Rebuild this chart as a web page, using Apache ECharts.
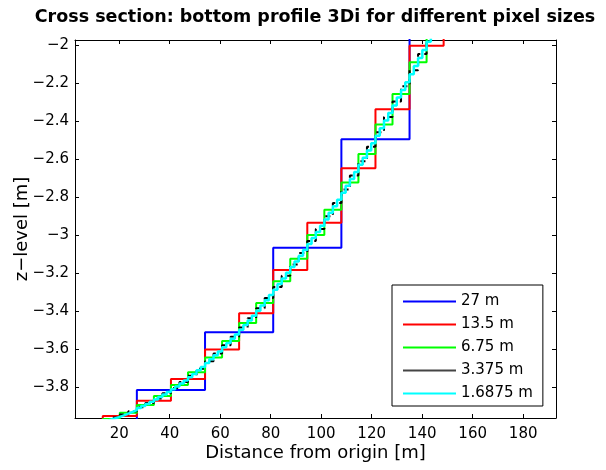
<!DOCTYPE html>
<html><head><meta charset="utf-8">
<script src="https://cdn.jsdelivr.net/npm/echarts@6/dist/echarts.min.js"></script>
<style>html,body{margin:0;padding:0;background:#fff}#c{width:606px;height:470px}</style>
</head><body><div id="c"></div>
<script>
// ---- data ----
const titleText = 'Cross section: bottom profile 3Di for different pixel sizes';
const xName = 'Distance from origin [m]';
const yName = 'z\u2212level [m]';
const seriesNames = ['27 m', '13.5 m', '6.75 m', '3.375 m', '1.6875 m'];
const pixelSizes = [27, 13.5, 6.75, 3.375, 1.6875];
const firstEdge = [0, 0, 6.75, 10.125, 11.8125];
const xTicks = [20, 40, 60, 80, 100, 120, 140, 160, 180];
const yTicks = [-3.8, -3.6, -3.4, -3.2, -3, -2.8, -2.6, -2.4, -2.2, -2];
const xRange = [2.5, 193];
const yRange = [-3.963, -1.974];

const levels27 = [-4.1, -3.816, -3.512, -3.067, -2.496, -1.83];
const levels13_5 = [-4.1, -3.953, -3.872, -3.758, -3.602, -3.412, -3.184, -2.935, -2.649, -2.338, -2.004, -1.66];
const levels6_75 = [-4.1, -3.968, -3.936, -3.895, -3.847, -3.790, -3.722, -3.644, -3.558, -3.463, -3.358,
  -3.244, -3.125, -3.000, -2.867, -2.724, -2.574, -2.419, -2.258, -2.091, -1.917, -1.74];
const levels3_375 = [-4.1, -3.975, -3.961,
  -3.945, -3.927, -3.906, -3.884, -3.860, -3.833, -3.805, -3.774,
  -3.741, -3.704, -3.665, -3.624, -3.580, -3.535, -3.487, -3.438,
  -3.386, -3.331, -3.274, -3.215, -3.155, -3.095, -3.032, -2.968,
  -2.901, -2.832, -2.760, -2.687, -2.612, -2.536, -2.459, -2.379,
  -2.298, -2.217, -2.133, -2.048, -1.961, -1.873];
const levels1_6875 = [-4.1, -3.978, -3.971, -3.964, -3.957,
  -3.949, -3.940, -3.931, -3.922, -3.911, -3.900, -3.889, -3.878,
  -3.866, -3.853, -3.839, -3.826, -3.812, -3.797, -3.781, -3.766,
  -3.749, -3.731, -3.712, -3.694, -3.674, -3.654, -3.633, -3.613,
  -3.591, -3.568, -3.546, -3.523, -3.499, -3.474, -3.450, -3.425,
  -3.399, -3.371, -3.344, -3.316, -3.288, -3.258, -3.229, -3.199,
  -3.169, -3.139, -3.109, -3.079, -3.048, -3.016, -2.984, -2.952,
  -2.918, -2.883, -2.849, -2.814, -2.778, -2.741, -2.705, -2.668,
  -2.631, -2.593, -2.555, -2.517, -2.478, -2.438, -2.398, -2.358,
  -2.318, -2.277, -2.237, -2.196, -2.154, -2.111, -2.069, -2.026,
  -1.983, -1.939, -1.895, -1.851];
const allLevels = [levels27, levels13_5, levels6_75, levels3_375, levels1_6875];

// ---- styles ----
const colors = ['#0000ff', '#ff0000', '#00ff00', '#000000', '#00ffff'];
const legendColors = ['#0000ff', '#ff0000', '#00ff00', '#444444', '#00ffff'];
const widths = [2, 2, 2, 2, 2.5];
const dashes = ['solid', 'solid', 'solid', [5, 4], 'solid'];
const FONT = 'DejaVu Sans, Liberation Sans, Arial, sans-serif';

function stairs(x0, p, lv) {
  const pts = lv.map((v, i) => [x0 + i * p, v]);
  pts.push([x0 + lv.length * p, lv[lv.length - 1]]);
  return pts;
}
const fmtNum = v => (v < 0 ? '\u2212' : '') + String(+Math.abs(v).toFixed(1));

const axisLine = {show: true, onZero: false, lineStyle: {color: '#000', width: 1}};
const tickStyle = {color: '#000', width: 1};

const chart = echarts.init(document.getElementById('c'), null, {renderer: 'canvas'});
chart.setOption({
  animation: false,
  backgroundColor: '#fff',
  title: {
    text: titleText, left: 315, textAlign: 'center', top: 8, padding: 0,
    textStyle: {fontFamily: FONT, fontWeight: 'bold', fontSize: 17.5, color: '#000'}
  },
  grid: {left: 75, top: 40, right: 50, bottom: 52},
  xAxis: [{
    type: 'value', min: xRange[0], max: xRange[1], position: 'bottom',
    name: xName, nameLocation: 'middle', nameGap: 26, nameMoveOverlap: false,
    nameTextStyle: {fontFamily: FONT, fontSize: 18, color: '#000'},
    axisLine: axisLine,
    axisTick: {show: true, inside: true, length: 4, customValues: xTicks, lineStyle: tickStyle},
    axisLabel: {show: true, customValues: xTicks, margin: 9, fontFamily: FONT, fontSize: 15, color: '#000', formatter: fmtNum},
    splitLine: {show: false}
  }, {
    type: 'value', min: xRange[0], max: xRange[1], position: 'top',
    axisLine: axisLine,
    axisTick: {show: true, inside: true, length: 4, customValues: xTicks, lineStyle: tickStyle},
    axisLabel: {show: false}, splitLine: {show: false}
  }],
  yAxis: [{
    type: 'value', min: yRange[0], max: yRange[1], position: 'left',
    name: yName, nameLocation: 'middle', nameGap: 44, nameMoveOverlap: false,
    nameTextStyle: {fontFamily: FONT, fontSize: 18, color: '#000'},
    axisLine: axisLine,
    axisTick: {show: true, inside: true, length: 4, customValues: yTicks, lineStyle: tickStyle},
    axisLabel: {show: true, customValues: yTicks, margin: 6, fontFamily: FONT, fontSize: 15, color: '#000', formatter: fmtNum},
    splitLine: {show: false}
  }, {
    type: 'value', min: yRange[0], max: yRange[1], position: 'right',
    axisLine: axisLine,
    axisTick: {show: true, inside: true, length: 4, customValues: yTicks, lineStyle: tickStyle},
    axisLabel: {show: false}, splitLine: {show: false}
  }],
  legend: {
    orient: 'vertical', left: 392, top: 285,
    padding: [9, 10, 5, 11], itemGap: 8, itemWidth: 53, itemHeight: 2, icon: 'rect',
    borderColor: '#000', borderWidth: 1, backgroundColor: '#fff',
    textStyle: {fontFamily: FONT, fontSize: 15, lineHeight: 15, color: '#000'},
    data: seriesNames.map((n, i) => ({name: n, icon: 'rect', itemStyle: {color: legendColors[i]}}))
  },
  series: seriesNames.map((n, i) => ({
    name: n, type: 'line', step: 'end', showSymbol: false, symbol: 'none',
    clip: true, silent: true, z: 2 + i,
    color: colors[i],
    lineStyle: {color: colors[i], width: widths[i], type: dashes[i]},
    data: stairs(firstEdge[i], pixelSizes[i], allLevels[i])
  }))
});
</script>
</body></html>
